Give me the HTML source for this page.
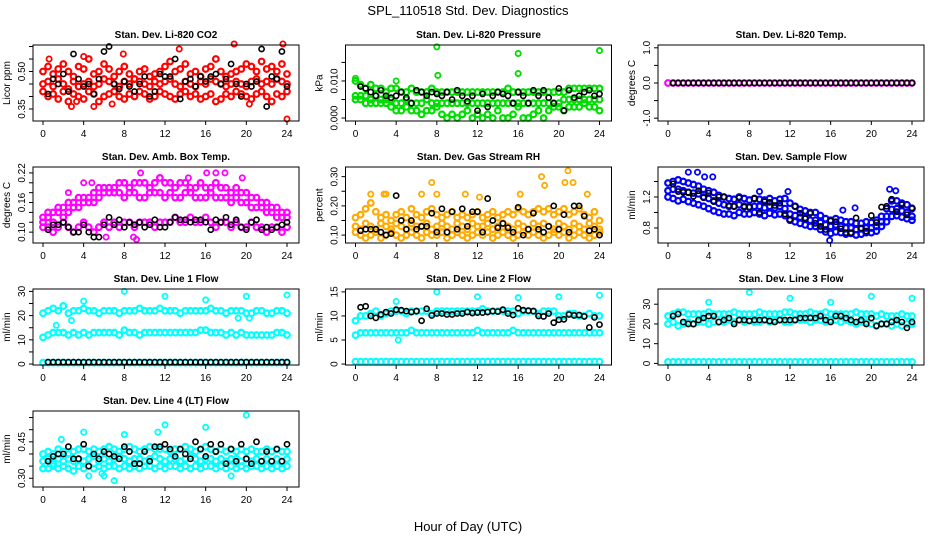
<!DOCTYPE html>
<html><head><meta charset="utf-8"><style>
body{margin:0;background:#fff;}
svg{display:block;font-family:"Liberation Sans",sans-serif;}
</style></head><body>
<svg id="chart" width="936" height="540" viewBox="0 0 936 540" xmlns="http://www.w3.org/2000/svg">
<rect width="936" height="540" fill="#fff"/>
<text x="468" y="15" font-size="13" text-anchor="middle">SPL_110518  Std. Dev. Diagnostics</text>
<text x="468" y="531" font-size="13" text-anchor="middle">Hour of Day (UTC)</text>
</svg>
<script>
const xTicks=[0,4,8,12,16,20,24];
const titles=["Stan. Dev. Li-820 CO2","Stan. Dev. Li-820 Pressure","Stan. Dev. Li-820 Temp.","Stan. Dev. Amb. Box Temp.","Stan. Dev. Gas Stream RH","Stan. Dev. Sample Flow","Stan. Dev. Line 1 Flow","Stan. Dev. Line 2 Flow","Stan. Dev. Line 3 Flow","Stan. Dev. Line 4 (LT) Flow"];
const yTitles=["Licor ppm","kPa","degrees C","degrees C","percent","ml/min","ml/min","ml/min","ml/min","ml/min"];
const yRanges=[[0.302,0.606],[-0.0008,0.0197],[-1.08,1.08],[0.078,0.232],[0.073,0.333],[0.606,1.587],[-0.4,31],[-0.2,15.6],[-0.8,37.7],[0.264,0.577]];
const yTicks=[[0.35,0.40,0.45,0.50,0.55,0.60],[0,0.005,0.010,0.015],[-1,-0.5,0,0.5,1],[0.10,0.12,0.14,0.16,0.18,0.20,0.22],[0.10,0.15,0.20,0.25,0.30],[0.8,1.0,1.2,1.4],[0,5,10,15,20,25,30],[0,5,10,15],[0,10,20,30],[0.30,0.35,0.40,0.45,0.50,0.55]];
const yTickLabels=[["0.35","","","0.50","",""],["0.000","","0.010",""],["-1.0","","0.0","","1.0"],["0.10","","","0.16","","","0.22"],["0.10","","0.20","","0.30"],["0.8","","1.2",""],["0","","10","","20","","30"],["0","5","10","15"],["0","10","20","30"],["0.30","","","0.45","",""]];
const colors=["#ff0000","#00dd00","#ff00ff","#ff00ff","#ffaa00","#0000ff","#00ffff","#00ffff","#00ffff","#00ffff"];
const hoursA=[];for(let i=0;i<=48;i++)hoursA.push(i/2);
const hoursB=[];for(let i=1;i<=48;i++)hoursB.push(i/2);
const co2A=[0.50,0.52,0.49,0.51,0.53,0.50,0.48,0.52,0.51,0.55,0.49,0.50,0.53,0.51,0.48,0.50,0.52,0.49,0.47,0.50,0.51,0.48,0.49,0.50,0.52,0.54,0.50,0.51,0.53,0.49,0.50,0.48,0.51,0.52,0.55,0.50,0.48,0.49,0.50,0.51,0.53,0.52,0.50,0.54,0.51,0.52,0.50,0.53,0.49];
const co2B=[0.45,0.46,0.44,0.47,0.45,0.43,0.46,0.44,0.45,0.46,0.44,0.45,0.47,0.46,0.45,0.44,0.46,0.45,0.47,0.46,0.45,0.44,0.46,0.45,0.46,0.47,0.45,0.44,0.46,0.45,0.44,0.46,0.45,0.47,0.46,0.45,0.44,0.45,0.46,0.45,0.44,0.46,0.47,0.45,0.46,0.45,0.47,0.46,0.45];
const co2C=[0.42,0.40,0.41,0.39,0.42,0.38,0.41,0.40,0.39,0.42,0.41,0.38,0.40,0.41,0.42,0.40,0.39,0.41,0.40,0.42,0.41,0.39,0.40,0.42,0.41,0.40,0.39,0.41,0.42,0.40,0.41,0.39,0.40,0.41,0.38,0.39,0.41,0.40,0.42,0.41,0.40,0.39,0.41,0.42,0.40,0.38,0.41,0.40,0.42];
const co2ExtraT=[0.6,2.8,3.3,5.0,7.9,13.4,18.8,23.6,24.0,20.3,6.8,4.0];
const co2ExtraV=[0.55,0.36,0.38,0.36,0.57,0.59,0.61,0.61,0.31,0.37,0.37,0.56];
const co2Blk=[0.41,0.47,0.45,0.49,0.42,0.57,0.47,0.44,0.45,0.41,0.47,0.58,0.60,0.45,0.43,0.46,0.44,0.42,0.45,0.48,0.40,0.42,0.49,0.48,0.48,0.55,0.39,0.46,0.47,0.44,0.48,0.46,0.48,0.49,0.45,0.47,0.53,0.45,0.40,0.45,0.44,0.46,0.59,0.36,0.48,0.47,0.58,0.44];
const prA=[0.010,0.009,0.008,0.009,0.008,0.008,0.007,0.008,0.008,0.007,0.007,0.008,0.007,0.007,0.007,0.008,0.007,0.007,0.007,0.007,0.007,0.007,0.007,0.007,0.007,0.007,0.007,0.007,0.007,0.007,0.008,0.007,0.007,0.007,0.007,0.007,0.007,0.007,0.007,0.007,0.007,0.007,0.008,0.008,0.008,0.008,0.008,0.008,0.008];
const prB=[0.006,0.006,0.006,0.005,0.006,0.005,0.005,0.005,0.004,0.004,0.005,0.004,0.004,0.004,0.005,0.004,0.004,0.004,0.004,0.004,0.004,0.004,0.004,0.004,0.004,0.004,0.004,0.004,0.004,0.004,0.004,0.004,0.004,0.004,0.004,0.004,0.004,0.004,0.004,0.004,0.004,0.005,0.005,0.005,0.005,0.005,0.005,0.005,0.005];
const prC=[0.005,0.005,0.004,0.004,0.004,0.004,0.004,0.003,0.002,0.002,0.003,0.002,0.002,0.001,0.002,0.002,0.003,0.001,0.000,0.001,0.000,0.001,0.002,0.000,0.001,0.000,0.001,0.000,0.002,0.000,0.000,0.001,0.003,0.000,0.000,0.001,0.002,0.000,0.002,0.003,0.003,0.002,0.003,0.003,0.003,0.004,0.003,0.003,0.002];
const prExtraT=[8.0,8.1,16.0,16.0,24.0,4.0,0.0];
const prExtraV=[0.0192,0.0115,0.0174,0.0120,0.0182,0.0100,0.0107];
const prBlk=[0.0085,0.008,0.007,0.006,0.0075,0.006,0.0055,0.006,0.007,0.0055,0.004,0.0075,0.007,0.006,0.007,0.0065,0.006,0.007,0.005,0.0075,0.006,0.0045,0.006,0.002,0.0065,0.003,0.006,0.007,0.0065,0.006,0.004,0.007,0.006,0.004,0.0075,0.006,0.0075,0.0055,0.004,0.008,0.002,0.0075,0.0055,0.006,0.007,0.0075,0.006,0.0065];
const tmpA=[0,0,0,0,0,0,0,0,0,0,0,0,0,0,0,0,0,0,0,0,0,0,0,0,0,0,0,0,0,0,0,0,0,0,0,0,0,0,0,0,0,0,0,0,0,0,0,0,0];
const tmpBlk=[0,0,0,0,0,0,0,0,0,0,0,0,0,0,0,0,0,0,0,0,0,0,0,0,0,0,0,0,0,0,0,0,0,0,0,0,0,0,0,0,0,0,0,0,0,0,0,0];
const ambA=[0.13,0.14,0.14,0.15,0.15,0.16,0.16,0.17,0.17,0.17,0.18,0.19,0.19,0.19,0.19,0.20,0.20,0.19,0.20,0.20,0.20,0.19,0.20,0.21,0.20,0.20,0.19,0.20,0.20,0.19,0.19,0.20,0.19,0.19,0.20,0.19,0.19,0.18,0.19,0.18,0.18,0.17,0.17,0.16,0.16,0.15,0.15,0.14,0.14];
const ambB=[0.12,0.13,0.12,0.14,0.13,0.14,0.15,0.15,0.16,0.16,0.16,0.17,0.18,0.18,0.18,0.18,0.17,0.18,0.18,0.17,0.17,0.18,0.18,0.18,0.17,0.18,0.17,0.17,0.18,0.18,0.17,0.17,0.17,0.18,0.17,0.17,0.17,0.16,0.17,0.16,0.16,0.15,0.15,0.15,0.14,0.14,0.13,0.13,0.13];
const ambC=[0.11,0.11,0.10,0.11,0.12,0.11,0.10,0.11,0.12,0.11,0.10,0.11,0.12,0.11,0.12,0.11,0.12,0.12,0.11,0.12,0.12,0.12,0.11,0.12,0.12,0.12,0.13,0.12,0.12,0.13,0.12,0.12,0.13,0.12,0.11,0.12,0.12,0.11,0.12,0.11,0.11,0.12,0.11,0.11,0.10,0.11,0.11,0.10,0.11];
const ambExtraT=[2.5,4.0,4.8,9.6,11.5,14.3,16.1,17.0,17.9,19.6,6.2,8.9,9.2];
const ambExtraV=[0.18,0.20,0.20,0.22,0.21,0.21,0.22,0.22,0.22,0.21,0.09,0.09,0.085];
const ambBlk=[0.105,0.115,0.115,0.12,0.11,0.10,0.10,0.115,0.10,0.09,0.09,0.115,0.13,0.115,0.125,0.11,0.12,0.115,0.12,0.11,0.115,0.125,0.11,0.11,0.12,0.13,0.125,0.125,0.12,0.125,0.125,0.12,0.105,0.125,0.12,0.13,0.115,0.125,0.11,0.105,0.12,0.125,0.105,0.11,0.105,0.11,0.115,0.12];
const rhA=[0.16,0.17,0.19,0.21,0.18,0.16,0.17,0.15,0.17,0.18,0.16,0.19,0.17,0.16,0.18,0.19,0.17,0.16,0.17,0.18,0.16,0.17,0.16,0.17,0.18,0.16,0.17,0.18,0.16,0.17,0.18,0.17,0.19,0.18,0.17,0.18,0.19,0.18,0.19,0.17,0.18,0.19,0.17,0.18,0.19,0.17,0.16,0.18,0.15];
const rhB=[0.13,0.12,0.14,0.13,0.12,0.14,0.13,0.12,0.14,0.13,0.12,0.14,0.13,0.13,0.14,0.12,0.13,0.14,0.13,0.12,0.14,0.13,0.12,0.14,0.13,0.13,0.14,0.12,0.13,0.14,0.13,0.12,0.14,0.13,0.12,0.14,0.13,0.14,0.13,0.12,0.14,0.13,0.12,0.14,0.13,0.12,0.14,0.13,0.12];
const rhC=[0.11,0.10,0.09,0.10,0.11,0.09,0.10,0.11,0.10,0.09,0.10,0.11,0.10,0.09,0.11,0.10,0.10,0.11,0.09,0.10,0.11,0.10,0.09,0.10,0.11,0.10,0.11,0.09,0.10,0.11,0.10,0.09,0.10,0.11,0.10,0.11,0.10,0.09,0.10,0.11,0.10,0.11,0.09,0.10,0.11,0.10,0.09,0.10,0.11];
const rhExtraT=[1.5,2.8,3.0,6.5,7.5,8.0,10.8,12.2,16.2,18.3,18.6,20.6,20.9,21.4,22.8];
const rhExtraV=[0.24,0.24,0.24,0.24,0.28,0.24,0.24,0.23,0.24,0.30,0.27,0.28,0.32,0.28,0.24];
const rhBlk=[0.115,0.12,0.12,0.12,0.11,0.10,0.105,0.235,0.15,0.12,0.15,0.12,0.13,0.13,0.175,0.11,0.19,0.11,0.18,0.12,0.19,0.13,0.18,0.18,0.11,0.225,0.15,0.125,0.14,0.125,0.11,0.195,0.10,0.12,0.175,0.12,0.11,0.13,0.20,0.12,0.17,0.11,0.20,0.20,0.165,0.115,0.12,0.10];
const sfA=[1.38,1.40,1.42,1.40,1.38,1.36,1.34,1.30,1.28,1.26,1.22,1.20,1.18,1.17,1.20,1.18,1.16,1.18,1.17,1.16,1.18,1.15,1.17,1.18,1.12,1.08,1.04,1.02,1.00,1.00,0.96,0.92,0.90,0.92,0.90,0.88,0.88,0.86,0.86,0.88,0.87,0.90,0.95,1.05,1.15,1.15,1.12,1.10,1.05];
const sfB=[1.28,1.30,1.30,1.28,1.26,1.25,1.24,1.20,1.18,1.15,1.12,1.10,1.08,1.08,1.10,1.08,1.07,1.08,1.08,1.06,1.08,1.06,1.08,1.05,0.98,0.96,0.94,0.93,0.90,0.90,0.87,0.84,0.82,0.84,0.82,0.80,0.80,0.78,0.79,0.80,0.80,0.82,0.88,0.95,1.04,1.05,1.02,1.00,0.95];
const sfC=[1.20,1.18,1.15,1.17,1.14,1.12,1.10,1.08,1.05,1.02,1.00,0.98,0.98,0.96,1.00,0.98,0.98,1.00,0.98,0.96,0.99,0.97,0.98,0.96,0.90,0.88,0.86,0.84,0.82,0.82,0.78,0.75,0.73,0.75,0.74,0.72,0.73,0.71,0.72,0.74,0.74,0.76,0.82,0.88,0.95,0.96,0.94,0.92,0.90];
const sfExtraT=[2.0,2.9,3.6,4.4,9.0,11.8,15.9,17.2,18.4,21.8,22.4];
const sfExtraV=[1.52,1.52,1.46,1.46,1.27,1.27,0.64,1.03,1.06,1.30,1.28];
const sfBlk=[1.37,1.27,1.26,1.26,1.21,1.28,1.19,1.25,1.14,1.20,1.20,1.09,1.08,1.19,1.07,1.07,1.18,1.00,1.14,1.13,1.09,1.12,0.98,0.91,1.08,0.99,0.92,0.99,0.86,0.82,0.78,0.89,0.88,0.79,0.74,0.74,0.93,0.80,0.76,0.96,0.87,1.07,1.08,1.17,1.01,1.10,0.97,1.06];
const l1A=[21,22,23,22,24,21,22,22,23,22,22,21,22,22,22,21,22,22,22,23,22,22,22,23,22,22,22,21,22,22,22,22,22,23,22,22,21,22,22,22,21,21,22,22,21,21,22,22,21];
const l1B=[11,12,13,13,13,12,13,12,13,12,13,13,13,13,13,12,14,13,13,12,13,13,13,13,13,13,13,13,13,13,13,14,14,13,13,13,12,13,12,13,12,12,12,12,12,12,13,13,12];
const l1C=[0.6,0.6,0.6,0.6,0.6,0.6,0.6,0.6,0.6,0.6,0.6,0.6,0.6,0.6,0.6,0.6,0.6,0.6,0.6,0.6,0.6,0.6,0.6,0.6,0.6,0.6,0.6,0.6,0.6,0.6,0.6,0.6,0.6,0.6,0.6,0.6,0.6,0.6,0.6,0.6,0.6,0.6,0.6,0.6,0.6,0.6,0.6,0.6,0.6];
const l1ExtraT=[1.3,2.8,4.0,8.0,12.0,16.0,20.0,24.0,19.2,20.3];
const l1ExtraV=[16,18,26,30,28,26.5,28,28.5,19,19];
const l1Blk=[0.8,0.8,0.8,0.8,0.8,0.8,0.8,0.8,0.8,0.8,0.8,0.8,0.8,0.8,0.8,0.8,0.8,0.8,0.8,0.8,0.8,0.8,0.8,0.8,0.8,0.8,0.8,0.8,0.8,0.8,0.8,0.8,0.8,0.8,0.8,0.8,0.8,0.8,0.8,0.8,0.8,0.8,0.8,0.8,0.8,0.8,0.8,0.8];
const l2A=[9,10,10,10.5,11,10,10.5,11,11,11,10.5,11,11,11,11,10.5,11,11,11,11,11,11,11,11,11,11.5,11,11,11,11,11,11,10.5,11,11,11,10.5,11,11,11,10,10,10.5,10.5,10,10,10.5,10,10];
const l2B=[6,6.5,6.5,6.5,6.5,6.5,6.5,6.5,6.5,6.5,6.5,7,6.5,6.5,6.5,6.5,6.5,6.5,6.5,6.5,6.5,6.5,6.5,6.5,7,6.5,6.5,6.5,6.5,6.5,6.5,7,6.5,6.5,6.5,6.5,6.5,6.5,6.5,6.5,6.5,6.5,6.5,6.5,6.5,6.5,6.5,6.5,6.5];
const l2C=[0.5,0.5,0.5,0.5,0.5,0.5,0.5,0.5,0.5,0.5,0.5,0.5,0.5,0.5,0.5,0.5,0.5,0.5,0.5,0.5,0.5,0.5,0.5,0.5,0.5,0.5,0.5,0.5,0.5,0.5,0.5,0.5,0.5,0.5,0.5,0.5,0.5,0.5,0.5,0.5,0.5,0.5,0.5,0.5,0.5,0.5,0.5,0.5,0.5];
const l2ExtraT=[4.0,8.0,12.0,16.0,20.0,24.0,4.2];
const l2ExtraV=[13,15,14,13.8,14,14.3,5];
const l2Blk=[11.8,12,10,9.6,10.3,10.8,10.5,11.3,11.2,11,10.8,11,9,11.5,10.1,10.5,10.5,10.3,10.3,10.5,10.5,10.8,10.6,10.7,10.7,10.8,11,10.9,11.3,10.5,10.2,11.6,11.2,11.1,11,10,9.9,10.5,8.6,9.2,9.3,10.3,10.1,10.2,9.9,7.6,9.7,8.2];
const l3A=[24,25,26,26,25,25,25,25,26,25,25,25,25,26,25,25,25,25,26,25,25,25,25,26,26,25,25,25,26,25,25,26,25,25,25,25,25,26,25,25,25,24,25,24,24,24,25,24,24];
const l3B=[20,21,19,20,21,20,21,21,20,21,21,21,22,21,22,21,22,21,21,22,21,22,22,21,21,22,22,22,21,22,22,21,22,22,21,22,21,20,21,21,20,19,20,20,19,20,19,20,20];
const l3C=[0.8,0.8,0.8,0.8,0.8,0.8,0.8,0.8,0.8,0.8,0.8,0.8,0.8,0.8,0.8,0.8,0.8,0.8,0.8,0.8,0.8,0.8,0.8,0.8,0.8,0.8,0.8,0.8,0.8,0.8,0.8,0.8,0.8,0.8,0.8,0.8,0.8,0.8,0.8,0.8,0.8,0.8,0.8,0.8,0.8,0.8,0.8,0.8,0.8];
const l3ExtraT=[4.0,8.0,12.0,16.0,20.0,24.0];
const l3ExtraV=[31,36,33,31,34,33];
const l3Blk=[24,25,21,20,20,22,23,24,24,21,22,23,20,22,22,21.5,22,22,22,21.5,21,22,22,22,22,23,23,23,23,24,22,21,24,24,23,22,21,22,20,23,19,20,20,21,22,21,18,21];
const l4A=[0.40,0.41,0.40,0.42,0.41,0.40,0.41,0.42,0.42,0.41,0.42,0.41,0.42,0.43,0.42,0.41,0.42,0.43,0.42,0.41,0.42,0.43,0.42,0.42,0.42,0.41,0.42,0.42,0.43,0.42,0.41,0.42,0.43,0.42,0.41,0.42,0.41,0.42,0.41,0.42,0.41,0.42,0.41,0.41,0.42,0.41,0.42,0.41,0.41];
const l4B=[0.37,0.38,0.36,0.38,0.37,0.38,0.37,0.38,0.37,0.38,0.39,0.37,0.38,0.37,0.38,0.39,0.38,0.37,0.38,0.38,0.37,0.38,0.39,0.38,0.37,0.38,0.38,0.37,0.38,0.39,0.38,0.37,0.38,0.38,0.37,0.38,0.37,0.38,0.38,0.37,0.38,0.37,0.38,0.37,0.38,0.37,0.38,0.37,0.38];
const l4C=[0.34,0.34,0.35,0.34,0.35,0.34,0.33,0.35,0.34,0.35,0.34,0.35,0.34,0.35,0.35,0.34,0.35,0.34,0.35,0.34,0.35,0.35,0.34,0.35,0.34,0.35,0.35,0.34,0.35,0.34,0.35,0.34,0.35,0.35,0.34,0.35,0.34,0.35,0.34,0.35,0.34,0.35,0.35,0.34,0.35,0.34,0.35,0.34,0.35];
const l4ExtraT=[1.8,4.0,8.0,12.0,16.0,20.0,11.3,5.8,6.0,7.0,4.5,18.5];
const l4ExtraV=[0.46,0.49,0.48,0.52,0.51,0.56,0.49,0.32,0.31,0.29,0.31,0.31];
const l4Blk=[0.37,0.39,0.40,0.40,0.43,0.38,0.38,0.44,0.35,0.40,0.38,0.41,0.40,0.39,0.38,0.43,0.41,0.36,0.36,0.41,0.37,0.43,0.43,0.44,0.42,0.39,0.42,0.40,0.38,0.45,0.42,0.39,0.44,0.41,0.44,0.36,0.42,0.37,0.44,0.38,0.36,0.45,0.37,0.41,0.37,0.42,0.37,0.44];

const panels=[
 {bands:[co2A,co2B,co2C],exT:co2ExtraT,exV:co2ExtraV,blk:co2Blk},
 {bands:[prA,prB,prC],exT:prExtraT,exV:prExtraV,blk:prBlk},
 {bands:[tmpA],exT:[],exV:[],blk:tmpBlk},
 {bands:[ambA,ambB,ambC],exT:ambExtraT,exV:ambExtraV,blk:ambBlk},
 {bands:[rhA,rhB,rhC],exT:rhExtraT,exV:rhExtraV,blk:rhBlk},
 {bands:[sfA,sfB,sfC],exT:sfExtraT,exV:sfExtraV,blk:sfBlk},
 {bands:[l1A,l1B,l1C],exT:l1ExtraT,exV:l1ExtraV,blk:l1Blk},
 {bands:[l2A,l2B,l2C],exT:l2ExtraT,exV:l2ExtraV,blk:l2Blk},
 {bands:[l3A,l3B,l3C],exT:l3ExtraT,exV:l3ExtraV,blk:l3Blk},
 {bands:[l4A,l4B,l4C],exT:l4ExtraT,exV:l4ExtraV,blk:l4Blk}
];
const NS="http://www.w3.org/2000/svg";
const svg=document.getElementById('chart');
function mk(tag,attrs,parent){const e=document.createElementNS(NS,tag);for(const k in attrs)e.setAttribute(k,attrs[k]);parent.appendChild(e);return e;}
const colLeft=[33,345.5,658],rowTop=[45,167,289,411],W=266,H=76;
panels.forEach((p,i)=>{
 const L=colLeft[i%3],T=rowTop[Math.floor(i/3)];
 const g=mk('g',{},svg);
 
 
 const [y0,y1]=yRanges[i];
 const xs=h=>L+10+h*244/24;
 const ys=v=>T+H-(v-y0)/(y1-y0)*H;
 const t=mk('text',{x:L+W/2,y:T-7,'font-size':10,'font-weight':'bold','text-anchor':'middle'},g);
 t.textContent=titles[i];
 
 
 const clip=mk('g',{},g);
 
 
 const col=colors[i];
 p.bands.forEach(arr=>{arr.forEach((v,k)=>{
   const c=mk('circle',{cx:xs(hoursA[k]),cy:ys(v),r:2.8,fill:'none',stroke:col,'stroke-width':2.2},clip);
   
   
 });});
 p.exT.forEach((h,k)=>{
   const c=mk('circle',{cx:xs(h),cy:ys(p.exV[k]),r:2.6,fill:'none',stroke:col,'stroke-width':1.8},clip);
   
   
 });
 p.blk.forEach((v,k)=>{
   const c=mk('circle',{cx:xs(hoursB[k]),cy:ys(v),r:2.6,fill:'none',stroke:'#000','stroke-width':1.6},clip);
   
   
 });
 const box=mk('rect',{x:L,y:T,width:W,height:H,fill:'none',stroke:'#000','stroke-width':1},g);
 
 
 mk('line',{x1:xs(0),x2:xs(24),y1:T+H,y2:T+H,stroke:'#000'},g);
 xTicks.forEach(h=>{
   mk('line',{x1:xs(h),x2:xs(h),y1:T+H,y2:T+H+4,stroke:'#000'},g);
   const l=mk('text',{x:xs(h),y:T+H+16,'font-size':10,'text-anchor':'middle'},g);
   l.textContent=h;
   
   
 });
 const tk=yTicks[i];
 mk('line',{x1:L,x2:L,y1:ys(tk[0]),y2:ys(tk[tk.length-1]),stroke:'#000'},g);
 tk.forEach((v,k)=>{
   const y=ys(v);
   mk('line',{x1:L-4,x2:L,y1:y,y2:y,stroke:'#000'},g);
   const s=yTickLabels[i][k];
   if(s){
     const l=mk('text',{x:L-8,y:y,'font-size':10,'text-anchor':'middle',transform:'rotate(-90 '+(L-8)+' '+y+')'},g);
     l.textContent=s;
     
     
   }
 });
 const yt=mk('text',{x:L-23,y:T+H/2,'font-size':10,'text-anchor':'middle',transform:'rotate(-90 '+(L-23)+' '+(T+H/2)+')'},g);
 yt.textContent=yTitles[i];
 
 
});
</script>
</body></html>
